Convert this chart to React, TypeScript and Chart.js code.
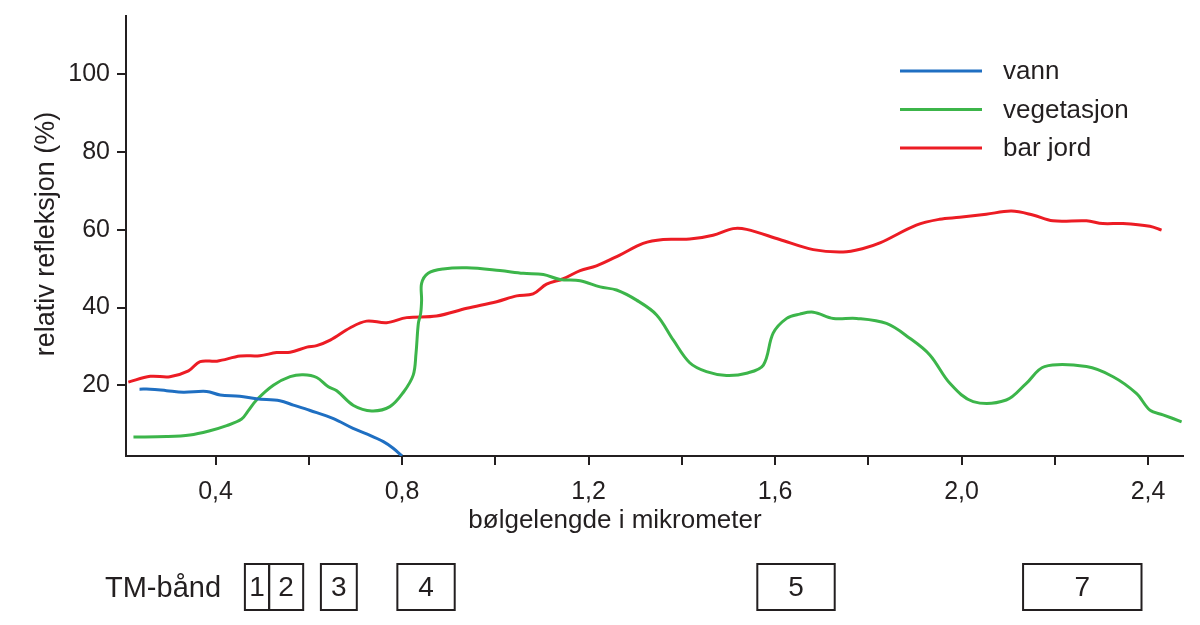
import React, { useEffect, useRef } from 'react';
import { Chart, registerables } from 'chart.js';

Chart.register(...registerables);

// ---- data ----
const vannX = [0.237, 0.26, 0.295, 0.331, 0.381, 0.41, 0.452, 0.488, 0.538, 0.567, 0.603, 0.653, 0.695, 0.724, 0.76, 0.781, 0.8];
const vannY = [19.0, 19.0, 18.6, 18.2, 18.4, 17.5, 17.2, 16.5, 16.0, 14.9, 13.5, 11.4, 8.9, 7.5, 5.5, 3.8, 1.8];

const vegX = [0.224, 0.295, 0.345, 0.388, 0.424, 0.456, 0.47, 0.488, 0.524, 0.56, 0.588, 0.617, 0.642, 0.66, 0.696, 0.735, 0.774, 0.803, 0.824, 0.83, 0.835, 0.84, 0.842, 0.842, 0.856, 0.888, 0.939, 1.01, 1.06, 1.103, 1.139, 1.182, 1.225, 1.26, 1.303, 1.346, 1.382, 1.417, 1.453, 1.496, 1.539, 1.575, 1.596, 1.625, 1.653, 1.682, 1.725, 1.775, 1.839, 1.889, 1.932, 1.975, 2.025, 2.096, 2.139, 2.178, 2.268, 2.325, 2.375, 2.404, 2.432, 2.472];
const vegY = [6.7, 6.8, 7.2, 8.3, 9.6, 11.3, 13.4, 16.2, 20.0, 22.2, 22.7, 22.0, 19.6, 18.6, 14.8, 13.4, 14.5, 18.2, 22.6, 28.2, 35.9, 38.5, 41.9, 46.2, 48.8, 49.9, 50.2, 49.5, 48.8, 48.5, 47.2, 46.9, 45.3, 44.5, 41.9, 38.1, 31.6, 25.8, 23.5, 22.5, 23.1, 25.2, 33.4, 37.2, 38.3, 38.8, 37.2, 37.2, 35.9, 32.1, 27.8, 20.5, 15.8, 16.2, 20.5, 24.8, 24.8, 22.2, 17.9, 13.6, 12.4, 10.6];

const jordX = [0.213, 0.26, 0.302, 0.342, 0.367, 0.403, 0.453, 0.495, 0.531, 0.56, 0.596, 0.617, 0.646, 0.689, 0.724, 0.767, 0.81, 0.874, 0.939, 1.003, 1.046, 1.081, 1.11, 1.146, 1.182, 1.217, 1.267, 1.317, 1.36, 1.417, 1.467, 1.51, 1.539, 1.61, 1.682, 1.746, 1.789, 1.825, 1.903, 1.953, 1.996, 2.053, 2.107, 2.153, 2.196, 2.268, 2.303, 2.346, 2.404, 2.429];
const jordY = [20.8, 22.3, 22.2, 23.7, 26.1, 26.2, 27.5, 27.6, 28.4, 28.5, 29.8, 30.2, 31.6, 34.8, 36.5, 36.1, 37.4, 37.8, 39.8, 41.5, 43.0, 43.5, 46.0, 47.4, 49.5, 50.7, 53.5, 56.5, 57.5, 57.6, 58.6, 60.3, 60.1, 57.5, 54.9, 54.3, 55.2, 56.6, 61.2, 62.7, 63.2, 64.0, 64.8, 63.8, 62.3, 62.3, 61.6, 61.6, 60.9, 59.9];

const seriesLabels = ['vann', 'vegetasjon', 'bar jord'];
const seriesColors = ['#1f6fc2', '#3cb54a', '#ec1c24'];

const tmBandLabels = ['1', '2', '3', '4', '5', '7'];
const tmBandStart = [0.463, 0.515, 0.626, 0.79, 1.562, 2.132];
const tmBandEnd = [0.515, 0.588, 0.703, 0.913, 1.728, 2.386];

const xTickValues = [0.4, 0.6, 0.8, 1.0, 1.2, 1.4, 1.6, 1.8, 2.0, 2.2, 2.4];
const xLabelEvery = [0.4, 0.8, 1.2, 1.6, 2.0, 2.4];
const yTickValues = [20, 40, 60, 80, 100];

const xTitle = 'bølgelengde i mikrometer';
const yTitle = 'relativ refleksjon (%)';
const tmTitle = 'TM-bånd';

const FONT = "'Liberation Sans', Arial, Helvetica, sans-serif";
const INK = '#231f20';

function pts(xs: number[], ys: number[]) {
  return xs.map((x, i) => ({ x, y: ys[i] }));
}

const overlay = {
  id: 'overlay',
  afterDraw(chart: any) {
    const ctx = chart.ctx;
    const xs = chart.scales.x;
    ctx.save();
    ctx.fillStyle = INK;
    ctx.strokeStyle = INK;

    // x title
    ctx.font = `26px ${FONT}`;
    ctx.textAlign = 'center';
    ctx.textBaseline = 'middle';
    ctx.fillText(xTitle, 615, 521);

    // y title
    ctx.save();
    ctx.translate(47, 234);
    ctx.rotate(-Math.PI / 2);
    ctx.font = `27px ${FONT}`;
    ctx.fillText(yTitle, 0, 0);
    ctx.restore();

    // legend
    const legY = [71, 109.5, 148];
    chart.data.datasets.forEach((ds: any, i: number) => {
      ctx.strokeStyle = ds.borderColor;
      ctx.lineWidth = 3;
      ctx.beginPath();
      ctx.moveTo(900, legY[i]);
      ctx.lineTo(982, legY[i]);
      ctx.stroke();
      ctx.fillStyle = INK;
      ctx.textAlign = 'left';
      ctx.textBaseline = 'middle';
      ctx.font = `26px ${FONT}`;
      ctx.fillText(ds.label, 1003, legY[i] + 1);
    });

    // TM bands
    ctx.fillStyle = INK;
    ctx.strokeStyle = INK;
    ctx.font = `29px ${FONT}`;
    ctx.textAlign = 'left';
    ctx.textBaseline = 'middle';
    ctx.fillText(tmTitle, 105, 589);
    const top = 564, bot = 610;
    ctx.lineWidth = 2;
    ctx.font = `28px ${FONT}`;
    ctx.textAlign = 'center';
    tmBandLabels.forEach((lab, i) => {
      const x0 = xs.getPixelForValue(tmBandStart[i]);
      const x1 = xs.getPixelForValue(tmBandEnd[i]);
      ctx.strokeRect(x0, top, x1 - x0, bot - top);
      ctx.fillText(lab, (x0 + x1) / 2, (top + bot) / 2 + 1);
    });
    ctx.restore();
  },
};

export default function App() {
  const ref = useRef<HTMLCanvasElement>(null);
  useEffect(() => {
    if (!ref.current) return;
    const series = [pts(vannX, vannY), pts(vegX, vegY), pts(jordX, jordY)];
    const chart = new Chart(ref.current, {
      type: 'line',
      data: {
        datasets: series.map((d, i) => ({
          label: seriesLabels[i],
          data: d,
          borderColor: seriesColors[i],
          backgroundColor: seriesColors[i],
          borderWidth: 3,
          pointRadius: 0,
          tension: 0.35,
          fill: false,
        })),
      },
      options: {
        responsive: false,
        animation: false,
        events: [],
        layout: { padding: { top: 16, right: 17, left: 0, bottom: 0 } },
        plugins: { legend: { display: false }, tooltip: { enabled: false }, title: { display: false } },
        scales: {
          x: {
            type: 'linear',
            min: 0.208,
            max: 2.475,
            afterBuildTicks: (s: any) => { s.ticks = xTickValues.map((v) => ({ value: v })); },
            afterFit: (s: any) => { s.height = 169; s.paddingLeft = 0; s.paddingRight = 0; },
            ticks: {
              autoSkip: false,
              maxRotation: 0,
              padding: 12,
              color: INK,
              font: { family: FONT, size: 25 },
              callback: (v: any) => {
                const n = Number(v);
                return xLabelEvery.some((t) => Math.abs(t - n) < 1e-6) ? n.toFixed(1).replace('.', ',') : '';
              },
            },
            grid: { drawOnChartArea: false, drawTicks: true, tickLength: 9, color: INK, tickColor: INK, lineWidth: 2, tickWidth: 2 },
            border: { display: true, color: INK, width: 2 },
          },
          y: {
            type: 'linear',
            min: 1.8,
            max: 115,
            afterBuildTicks: (s: any) => { s.ticks = yTickValues.map((v) => ({ value: v })); },
            afterFit: (s: any) => { s.width = 126; s.paddingTop = 0; s.paddingBottom = 0; },
            ticks: {
              padding: 7,
              color: INK,
              font: { family: FONT, size: 25 },
              callback: (v: any) => String(v),
            },
            grid: { drawOnChartArea: false, drawTicks: true, tickLength: 9, color: INK, tickColor: INK, lineWidth: 2, tickWidth: 2 },
            border: { display: true, color: INK, width: 2 },
          },
        },
      },
      plugins: [overlay],
    });
    return () => chart.destroy();
  }, []);
  return (
    <div style={{ position: 'fixed', left: 0, top: 0, width: 1200, height: 625, background: '#fff' }}>
      <canvas ref={ref} width={1200} height={625} style={{ width: 1200, height: 625, display: 'block' }} />
    </div>
  );
}
